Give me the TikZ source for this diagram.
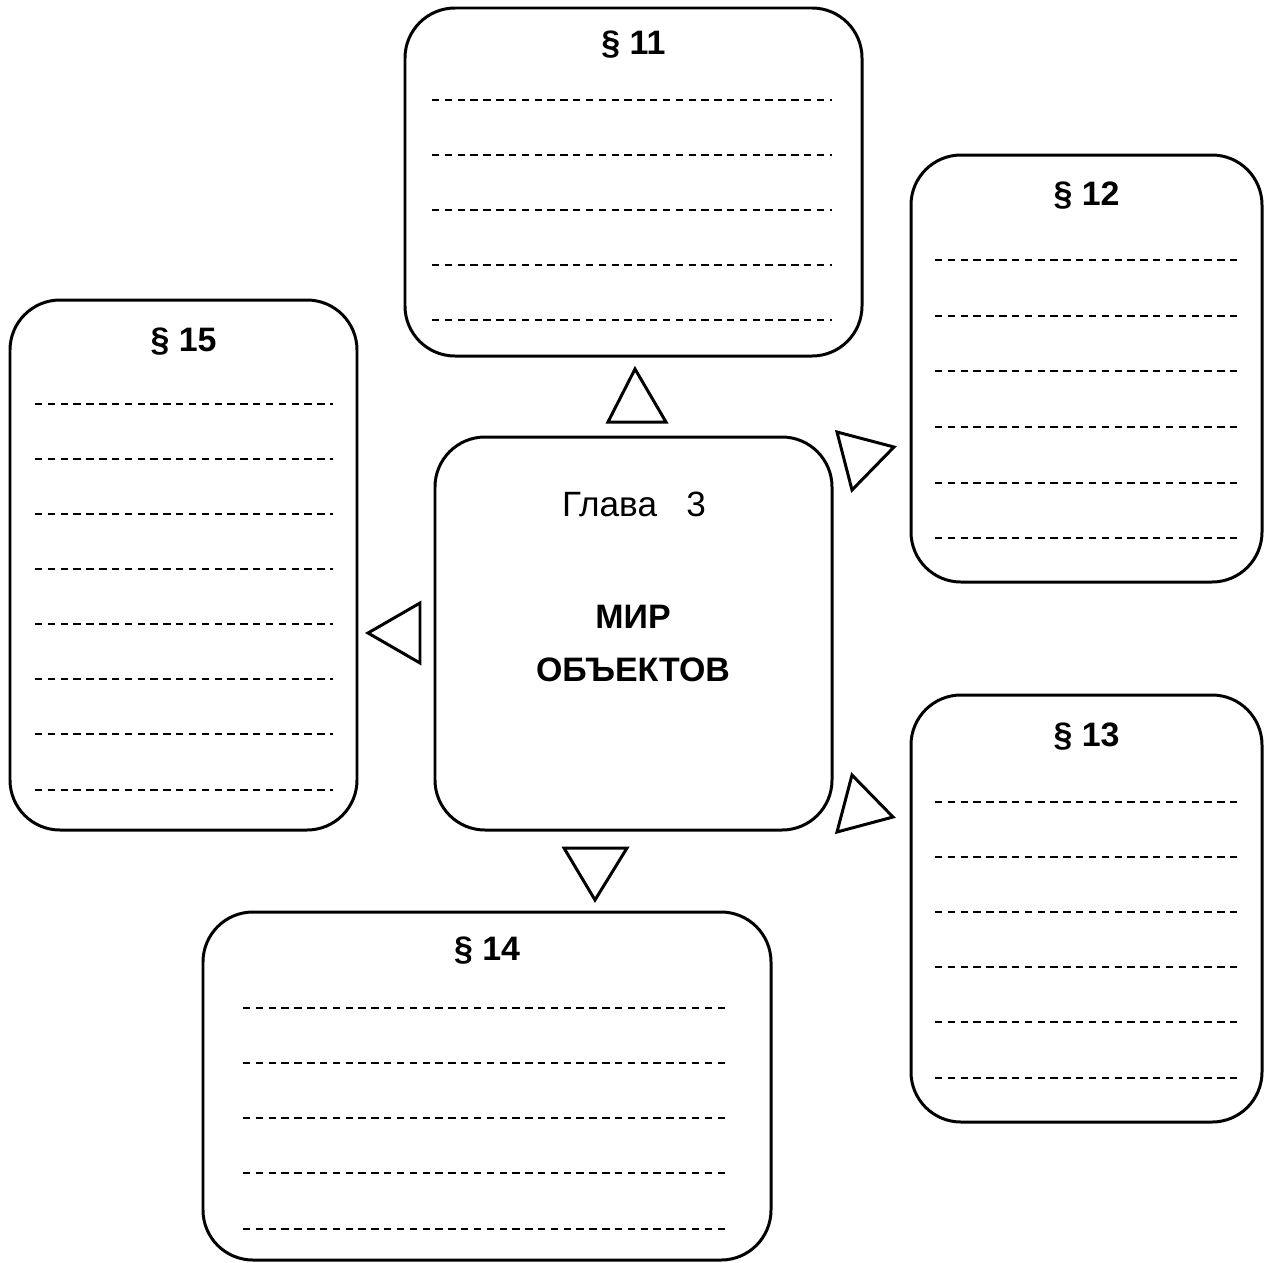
\documentclass[tikz,border=0pt]{standalone}
\usepackage{fontspec}
\setmainfont{Liberation Sans}
\usetikzlibrary{
    positioning,
    fit
}

\begin{document}
\begin{tikzpicture}[
    x=0.02cm, y=-0.02cm,
    box/.style={
        rectangle,
        rounded corners=1cm,
        draw,
        line width=1.7pt,
        inner sep=0pt
    },
    title/.style={
        font=\fontsize{19.3}{23}\selectfont\bfseries
    },
    chapter/.style={
        font=\fontsize{20}{24}\selectfont
    },
    blank/.style={dash pattern=on 4.2pt off 3.1pt, line width=1pt},
    pointer/.style={line width=1.7pt, line join=miter}
]
\useasboundingbox (0,0) rectangle (1271,1262);

% chapter box
\node[box, fit={(435,437)(832,830)}] (chapter) {};
\node[chapter] (chaptitle) at (634,504) {Глава\ \ \ 3};
\node[title] (world) at (633,617) {МИР};
\node[title] (objects) at (633,670) {ОБЪЕКТОВ};

% paragraph boxes
\node[box, fit={(405,8)(862,356)}] (p11) {};
\node[title] (p11title) at (p11.north |- 0,45) {§ 11};
\foreach \y in {100,155,210,265,320}
    \draw[blank] (432,\y) -- (832,\y);

\node[box, fit={(911,155)(1262,582)}] (p12) {};
\node[title] (p12title) at (p12.north |- 0,196) {§ 12};
\foreach \y in {260,316,371,427,483,538}
    \draw[blank] (935,\y) -- (1238,\y);

\node[box, fit={(911,695)(1262,1122)}] (p13) {};
\node[title] (p13title) at (p13.north |- 0,737) {§ 13};
\foreach \y in {802,857,912,967,1022,1078}
    \draw[blank] (935,\y) -- (1238,\y);

\node[box, fit={(203,912)(771,1260)}] (p14) {};
\node[title] (p14title) at (p14.north |- 0,951) {§ 14};
\foreach \y in {1008,1063,1118,1173,1229}
    \draw[blank] (243,\y) -- (727,\y);

\node[box, fit={(10,300)(357,830)}] (p15) {};
\node[title] (p15title) at (p15.north |- 0,342) {§ 15};
\foreach \y in {404,459,514,569,624,679,734,790}
    \draw[blank] (35,\y) -- (333,\y);

% pointers
\draw[pointer] (635,369) -- (608,422) -- (666,422) -- cycle;
\draw[pointer] (837,432) -- (852,490) -- (894,447) -- cycle;
\draw[pointer] (852,775) -- (837,832) -- (893,817) -- cycle;
\draw[pointer] (564,848) -- (627,848) -- (595,900) -- cycle;
\draw[pointer] (368,633) -- (420,603) -- (420,663) -- cycle;

\end{tikzpicture}
\end{document}
